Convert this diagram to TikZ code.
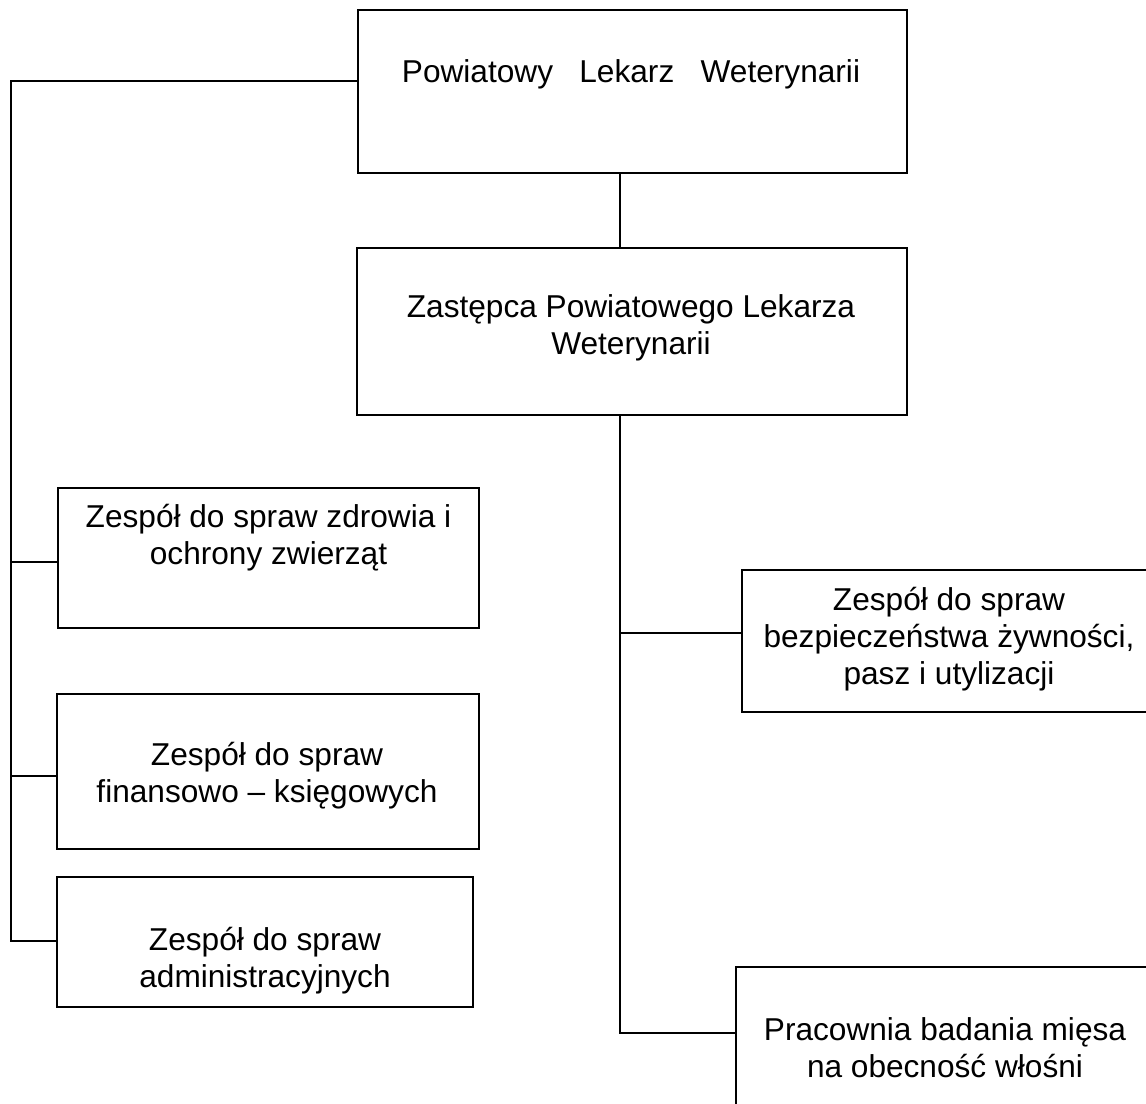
\documentclass[tikz,border=0pt]{standalone}
\usepackage{fontspec}
\setmainfont{Liberation Sans}
\usepackage{tikz}
\usetikzlibrary{calc}

\begin{document}
\begin{tikzpicture}[x=0.02cm,y=-0.02cm]
    \tikzstyle{box}=[draw,line width=1.2pt,inner sep=0pt,outer sep=0pt]
    \tikzstyle{label text}=[align=center,inner sep=0pt,font=\fontsize{18}{21}\selectfont]
    \tikzstyle{conn}=[line width=1.2pt,color=black]

    \useasboundingbox (0,0) rectangle (1146,1104);
    \clip (0,0) rectangle (1146,1104);

    % Boxes
    \node[box,minimum width=10.98cm,minimum height=3.26cm] (plw) at (632.5,91.5) {};
    \node[box,minimum width=11cm,minimum height=3.34cm] (zplw) at (632,331.5) {};
    \node[box,minimum width=8.42cm,minimum height=2.8cm] (zdrowie) at (268.5,558) {};
    \node[box,minimum width=8.44cm,minimum height=3.1cm] (finanse) at (268,771.5) {};
    \node[box,minimum width=8.32cm,minimum height=2.6cm] (admin) at (265,942) {};
    \node[box,minimum width=8.28cm,minimum height=2.84cm] (bezp) at (949,641) {};
    \node[box,minimum width=8.36cm,minimum height=3.24cm] (prac) at (945,1048) {};

    % Texts
    \node[label text] (plw-t) at (631,74) {Powiatowy~~~Lekarz~~~Weterynarii};
    \node[label text] (zplw-t) at (631,328) {Zastępca Powiatowego Lekarza\\Weterynarii};
    \node[label text] (zdrowie-t) at (268.5,538) {Zespół do spraw zdrowia i\\ochrony zwierząt};
    \node[label text] (finanse-t) at (267,776) {Zespół do spraw\\finansowo – księgowych};
    \node[label text] (admin-t) at (265,961) {Zespół do spraw\\administracyjnych};
    \node[label text] (bezp-t) at (949,639) {Zespół do spraw\\bezpieczeństwa żywności,\\pasz i utylizacji};
    \node[label text] (prac-t) at (945,1048) {Pracownia badania mięsa\\na obecność włośni};

    \coordinate (lt) at (11,81);
    \coordinate (l1) at (11,562);
    \coordinate (l2) at (11,776);
    \coordinate (lb) at (11,941);
    \coordinate (r0) at (620,0);
    \coordinate (r1) at (620,633);
    \coordinate (rb) at (620,1033);

    % Left
    \draw[style=conn] (lt -| plw.west) -- (lt) -- (lb) -- (lb -| admin.west);
    \draw[style=conn] (l1) -- (l1 -| zdrowie.west);
    \draw[style=conn] (l2) -- (l2 -| finanse.west);

    % Right
    \draw[style=conn] (r0 |- plw.south) -- (r0 |- zplw.north);
    \draw[style=conn] (r0 |- zplw.south) -- (rb) -- (rb -| prac.west);
    \draw[style=conn] (r1) -- (r1 -| bezp.west);

\end{tikzpicture}
\end{document}
